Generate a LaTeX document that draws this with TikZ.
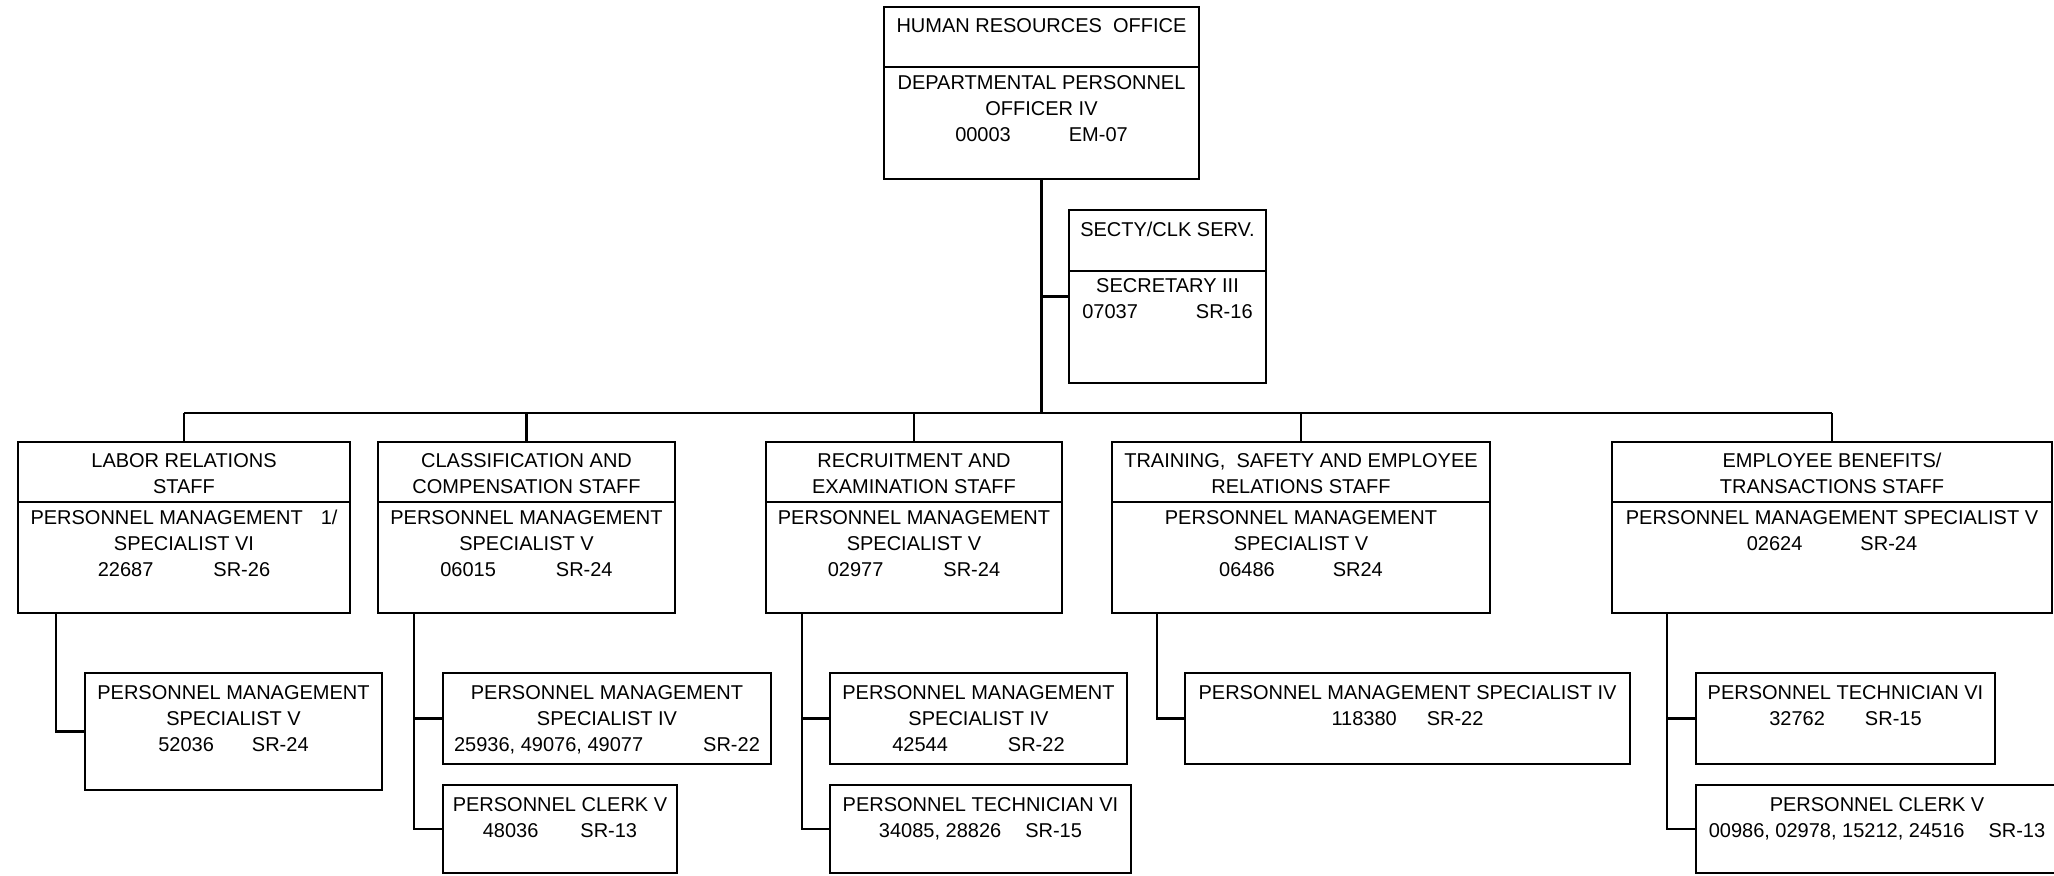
\documentclass[tikz,border=0pt]{standalone}
\usepackage{fontspec}
\setmainfont{Liberation Sans}
\usetikzlibrary{fit}
\tikzset{
  frame/.style={draw, line width=1.4pt, inner sep=0pt, rectangle},
  divider/.style={line width=1pt},
  wire/.style={line width=1.4pt},
  lbl/.style={inner sep=0pt, align=center, anchor=north, font=\fontsize{10}{13}\selectfont},
}
\begin{document}
\begin{tikzpicture}[x=0.5pt, y=-0.5pt]
\path[fill=white, use as bounding box] (0,0) rectangle (2054,875);

% ---- head office ----
\node[frame, fit={(884,7)(1199,179)}] (hro) {};
\draw[divider] (884,67) -- (1199,67);
\node[lbl] (hro-head) at (1041.5,18) {HUMAN RESOURCES\ \ OFFICE};
\node[lbl] (hro-body) at (1041.5,75) {DEPARTMENTAL PERSONNEL\\OFFICER IV\\00003\hspace{29pt}EM-07};

% ---- secretarial / clerical service ----
\node[frame, fit={(1069,210)(1266,383)}] (sec) {};
\draw[divider] (1069,271) -- (1266,271);
\node[lbl] (sec-head) at (1167.5,222) {SECTY/CLK SERV.};
\node[lbl] (sec-body) at (1167.5,278) {SECRETARY III\\07037\hspace{29pt}SR-16};

% ---- staff units ----
\node[frame, fit={(18,442)(350,613)}] (lab) {};
\draw[divider] (18,502) -- (350,502);
\node[lbl] (lab-head) at (184,453) {LABOR RELATIONS\\STAFF};
\node[lbl] (lab-body) at (184,510) {PERSONNEL MANAGEMENT\hspace{9pt}1/\\SPECIALIST VI\\22687\hspace{30pt}SR-26};

\node[frame, fit={(378,442)(675,613)}] (cls) {};
\draw[divider] (378,502) -- (675,502);
\node[lbl] (cls-head) at (526.5,453) {CLASSIFICATION AND\\COMPENSATION STAFF};
\node[lbl] (cls-body) at (526.5,510) {PERSONNEL MANAGEMENT\\SPECIALIST V\\06015\hspace{30pt}SR-24};

\node[frame, fit={(766,442)(1062,613)}] (rec) {};
\draw[divider] (766,502) -- (1062,502);
\node[lbl] (rec-head) at (914,453) {RECRUITMENT AND\\EXAMINATION STAFF};
\node[lbl] (rec-body) at (914,510) {PERSONNEL MANAGEMENT\\SPECIALIST V\\02977\hspace{30pt}SR-24};

\node[frame, fit={(1112,442)(1490,613)}] (trn) {};
\draw[divider] (1112,502) -- (1490,502);
\node[lbl] (trn-head) at (1301,453) {TRAINING,\ \ SAFETY AND EMPLOYEE\\RELATIONS STAFF};
\node[lbl] (trn-body) at (1301,510) {PERSONNEL MANAGEMENT\\SPECIALIST V\\06486\hspace{29pt}SR24};

\node[frame, fit={(1612,442)(2052,613)}] (ebt) {};
\draw[divider] (1612,502) -- (2052,502);
\node[lbl] (ebt-head) at (1832,453) {EMPLOYEE BENEFITS/\\TRANSACTIONS STAFF};
\node[lbl] (ebt-body) at (1832,510) {PERSONNEL MANAGEMENT SPECIALIST V\\02624\hspace{29pt}SR-24};

% ---- positions under each unit ----
\node[frame, fit={(85,673)(382,790)}] (lab1) {};
\node[lbl] (lab1-t) at (233.5,685) {PERSONNEL MANAGEMENT\\SPECIALIST V\\52036\hspace{19pt}SR-24};

\node[frame, fit={(443,673)(771,764)}] (cls1) {};
\node[lbl] (cls1-t) at (607,685) {PERSONNEL MANAGEMENT\\SPECIALIST IV\\25936, 49076, 49077\hspace{30pt}SR-22};
\node[frame, fit={(443,785)(677,873)}] (cls2) {};
\node[lbl] (cls2-t) at (560,797) {PERSONNEL CLERK V\\48036\hspace{21pt}SR-13};

\node[frame, fit={(830,673)(1127,764)}] (rec1) {};
\node[lbl] (rec1-t) at (978.5,685) {PERSONNEL MANAGEMENT\\SPECIALIST IV\\42544\hspace{30pt}SR-22};
\node[frame, fit={(830,785)(1131,873)}] (rec2) {};
\node[lbl] (rec2-t) at (980.5,797) {PERSONNEL TECHNICIAN VI\\34085, 28826\hspace{12pt}SR-15};

\node[frame, fit={(1185,673)(1630,764)}] (trn1) {};
\node[lbl] (trn1-t) at (1407.5,685) {PERSONNEL MANAGEMENT SPECIALIST IV\\118380\hspace{15pt}SR-22};

\node[frame, fit={(1696,673)(1995,764)}] (ebt1) {};
\node[lbl] (ebt1-t) at (1845.5,685) {PERSONNEL TECHNICIAN VI\\32762\hspace{20pt}SR-15};
\node[frame, fit={(1696,785)(2058,873)}] (ebt2) {};
\node[lbl] (ebt2-t) at (1877,797) {PERSONNEL CLERK V\\00986, 02978, 15212, 24516\hspace{12pt}SR-13};

% ---- connectors ----
\coordinate (bus) at (1041.5,413);
\draw[wire] (hro.south) -- (bus);
\draw[wire] (sec.west) -- (sec.west -| hro.south);
\draw[wire] (lab.north |- bus) -- (ebt.north |- bus);
\foreach \u in {lab,cls,rec,trn,ebt}
  \draw[wire] (\u.north) -- (\u.north |- bus);

\coordinate (lab-drop) at (56,613);
\coordinate (cls-drop) at (414,613);
\coordinate (rec-drop) at (802,613);
\coordinate (trn-drop) at (1157,613);
\coordinate (ebt-drop) at (1667,613);

\draw[wire] (lab-drop) |- (lab1.west);
\draw[wire] (cls-drop) |- (cls2.west);
\draw[wire] (cls1.west) -- (cls1.west -| cls-drop);
\draw[wire] (rec-drop) |- (rec2.west);
\draw[wire] (rec1.west) -- (rec1.west -| rec-drop);
\draw[wire] (trn-drop) |- (trn1.west);
\draw[wire] (ebt-drop) |- (ebt2.west);
\draw[wire] (ebt1.west) -- (ebt1.west -| ebt-drop);
\end{tikzpicture}
\end{document}
